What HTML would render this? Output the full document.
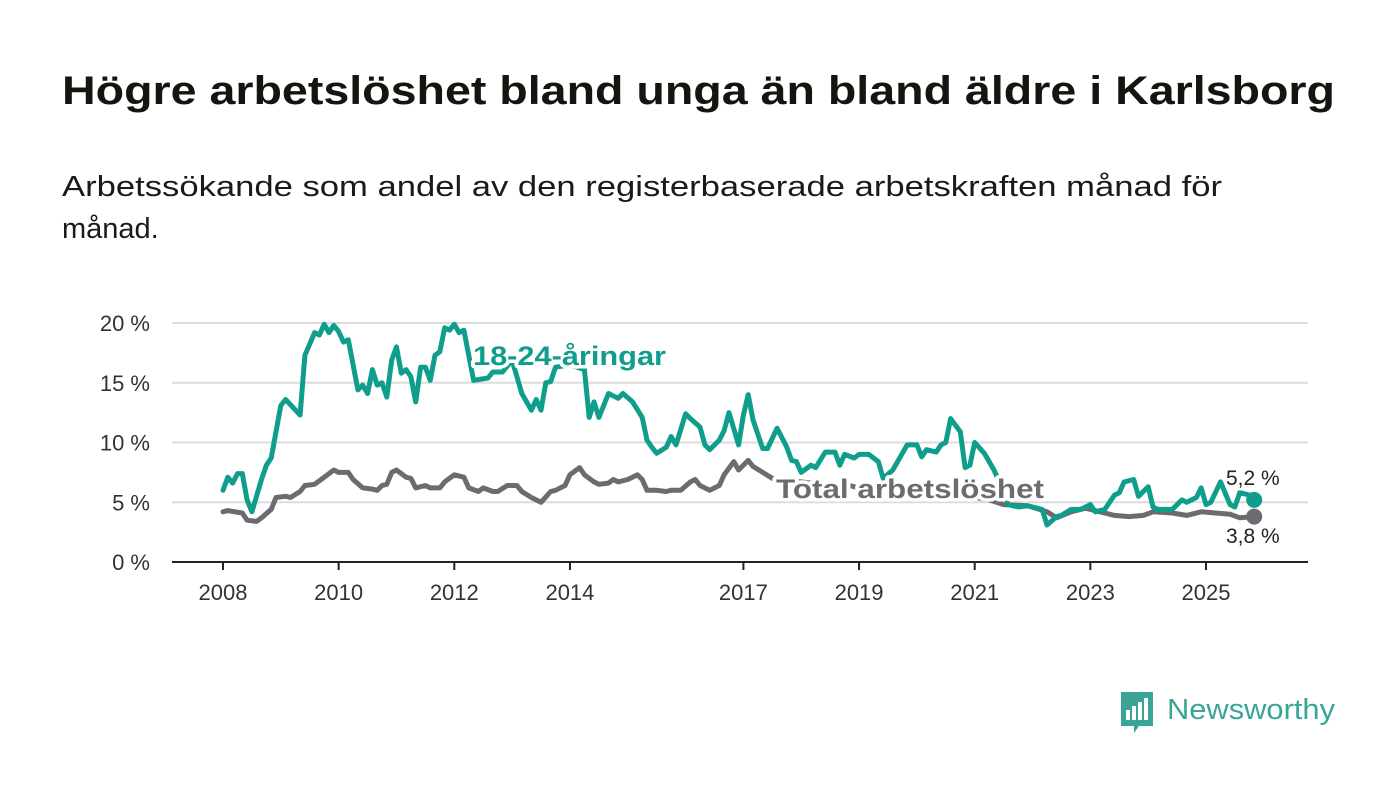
<!DOCTYPE html>
<html><head><meta charset="utf-8"><style>
html,body{margin:0;padding:0;background:#fff;}
svg{display:block;font-family:"Liberation Sans",sans-serif;}
</style></head><body>
<svg id="chart" width="1400" height="794" viewBox="0 0 1400 794" xmlns="http://www.w3.org/2000/svg">
<text x="62" y="104" font-size="40" font-weight="bold" fill="#151510" textLength="1273" lengthAdjust="spacingAndGlyphs">Högre arbetslöshet bland unga än bland äldre i Karlsborg</text>
<text x="62" y="196" font-size="29" fill="#1a1a1a" textLength="1160" lengthAdjust="spacingAndGlyphs">Arbetssökande som andel av den registerbaserade arbetskraften månad för</text>
<text x="62" y="238" font-size="29" fill="#1a1a1a">månad.</text>
<g id="grid"></g><g id="axes"></g><g id="series"></g><g id="labels"></g>
<g>
<path d="M1121 692 h32 v34 h-14 l-5 7 v-7 h-13 z" fill="#3aa597"/>
<rect x="1126" y="710" width="4" height="10" fill="#fff"/><rect x="1132" y="706" width="4" height="14" fill="#fff"/><rect x="1138" y="702" width="4" height="18" fill="#fff"/><rect x="1144" y="698" width="4" height="22" fill="#fff"/>
<text x="1167" y="719" font-size="29" fill="#3aa597" textLength="168" lengthAdjust="spacingAndGlyphs">Newsworthy</text>
</g>
</svg>
<script>
const youthMonths=[0,1,2,3,4,5,6,8,9,10,12,13,16,17,19,20,21,22,23,24,25,26,27,28,29,30,31,32,33,34,35,36,37,38,39,40,41,42,43,44,45,46,47,48,49,50,52,55,56,58,60,62,64,65,66,67,68,69,72,75,76,77,78,80,82,83,85,87,88,89,90,92,93,94,96,97,99,100,101,103,104,105,107,108,109,110,112,113,115,117,118,119,120,122,123,125,127,128,129,131,132,134,136,137,139,142,144,145,146,148,149,150,151,153,154,155,156,158,160,162,163,165,167,170,171,173,174,176,178,180,181,183,185,186,187,189,190,192,193,194,197,199,200,202,203,204,205,207,209,210,211,213,214];
const youthValues=[6.0,7.1,6.6,7.4,7.4,5.2,4.2,6.9,8.1,8.7,13.1,13.6,12.3,17.3,19.2,19.0,19.9,19.2,19.8,19.3,18.4,18.6,16.5,14.4,14.8,14.1,16.1,14.8,15.0,13.8,16.9,18.0,15.8,16.1,15.5,13.4,16.3,16.3,15.2,17.3,17.6,19.6,19.4,19.9,19.2,19.4,15.2,15.4,15.9,15.9,16.9,14.1,12.7,13.6,12.7,15.0,15.1,16.3,16.5,16.1,12.1,13.4,12.1,14.1,13.7,14.1,13.4,12.1,10.2,9.6,9.1,9.6,10.5,9.8,12.4,12.0,11.3,9.8,9.4,10.2,11.0,12.5,9.8,12.3,14.0,11.9,9.5,9.5,11.2,9.6,8.5,8.4,7.5,8.1,7.9,9.2,9.2,8.1,9.0,8.7,9.0,9.0,8.4,7.0,7.7,9.8,9.8,8.8,9.4,9.2,9.8,10.0,12.0,10.9,7.9,8.1,10.0,9.1,7.7,5.9,4.8,4.6,4.7,4.4,3.1,3.8,3.9,4.4,4.4,4.8,4.2,4.4,5.6,5.8,6.7,6.9,5.5,6.3,4.6,4.4,4.4,5.2,5.0,5.4,6.2,4.8,5.0,6.7,4.8,4.6,5.8,5.6,5.2];
const totalMonths=[0,1,4,5,7,8,10,11,13,14,16,17,19,21,23,24,26,27,29,31,32,33,34,35,36,38,39,40,42,43,45,46,48,50,51,53,54,56,57,59,61,62,64,65,66,68,69,71,72,74,75,77,78,80,81,82,84,86,87,88,90,92,93,95,97,98,99,101,103,104,106,107,109,110,112,114,118,122,126,130,134,138,143,147,151,155,159,162,167,171,173,176,179,182,185,188,191,193,197,200,203,206,209,211,214];
const totalValues=[4.2,4.3,4.1,3.5,3.4,3.7,4.4,5.4,5.5,5.4,5.9,6.4,6.5,7.1,7.7,7.5,7.5,6.9,6.2,6.1,6.0,6.4,6.5,7.5,7.7,7.1,7.0,6.2,6.4,6.2,6.2,6.7,7.3,7.1,6.2,5.9,6.2,5.9,5.9,6.4,6.4,5.9,5.4,5.2,5.0,5.9,6.0,6.4,7.3,7.9,7.3,6.7,6.5,6.6,6.9,6.7,6.9,7.3,6.9,6.0,6.0,5.9,6.0,6.0,6.7,6.9,6.4,6.0,6.4,7.3,8.4,7.7,8.5,8.0,7.5,7.0,6.8,6.6,6.3,6.4,6.0,6.2,6.0,5.8,5.5,5.5,5.2,4.8,4.7,4.2,3.7,4.2,4.5,4.2,3.9,3.8,3.9,4.2,4.1,3.9,4.2,4.1,4.0,3.7,3.8];
const yTicks=[0,5,10,15,20];
const yTickLabels=["0 %","5 %","10 %","15 %","20 %"];
const xTickYears=[2008,2010,2012,2014,2017,2019,2021,2023,2025];
const NS="http://www.w3.org/2000/svg";
const x=m=>223+m*(983/204);
const xy=yr=>x((yr-2008)*12);
const y=v=>562-v*(239/20);
function mk(tag,attrs,parent,txt){const e=document.createElementNS(NS,tag);for(const k in attrs)e.setAttribute(k,attrs[k]);if(txt!==undefined)e.textContent=txt;parent.appendChild(e);return e;}
const grid=document.getElementById('grid'),axes=document.getElementById('axes'),series=document.getElementById('series'),labels=document.getElementById('labels');
yTicks.forEach((t,i)=>{
  if(t>0){const g=mk('line',{x1:172,x2:1308,y1:y(t),y2:y(t),stroke:'#dcdcdc','stroke-width':2},grid);
  
  }
  const l=mk('text',{x:150,y:y(t)+8,'font-size':22,fill:'#333','text-anchor':'end'},axes,yTickLabels[i]);
  
  
});
const base=mk('line',{x1:172,x2:1308,y1:562,y2:562,stroke:'#222','stroke-width':2},axes);


xTickYears.forEach(yr=>{
  mk('line',{x1:xy(yr),x2:xy(yr),y1:562,y2:570,stroke:'#222','stroke-width':2},axes);
  const l=mk('text',{x:xy(yr),y:600,'font-size':22,fill:'#333','text-anchor':'middle'},axes,String(yr));
  
  
});
function line(ms,vs,color,name){
  const d=ms.map((m,i)=>(i?'L':'M')+x(m).toFixed(1)+' '+y(vs[i]).toFixed(1)).join(' ');
  const p=mk('path',{d:d,fill:'none',stroke:color,'stroke-width':5,'stroke-linejoin':'round','stroke-linecap':'round'},series);
  
  
  const c=mk('circle',{cx:x(ms[ms.length-1]),cy:y(vs[vs.length-1]),r:8,fill:color},series);
  
  
}
line(totalMonths,totalValues,'#6d6b70','total-line');
line(youthMonths,youthValues,'#0f9e8c','youth-line');
function lab(txt,xx,yy,color,name,len){
  const t=mk('text',{x:xx,y:yy,'font-size':27,'font-weight':'bold',fill:color,stroke:'#fff','stroke-width':7,'paint-order':'stroke','stroke-linejoin':'round',textLength:len,lengthAdjust:'spacingAndGlyphs'},labels,txt);
  
  
}
lab('18-24-åringar',473,365,'#0f9e8c','youth-series-label',193);
lab('Total arbetslöshet',776,498,'#6d6b70','total-series-label',268);
const v1=mk('text',{x:1226,y:485,'font-size':21,fill:'#222',stroke:'#fff','stroke-width':5,'paint-order':'stroke'},labels,youthValues[youthValues.length-1].toFixed(1).replace('.',',')+' %');


const v2=mk('text',{x:1226,y:543,'font-size':21,fill:'#222',stroke:'#fff','stroke-width':5,'paint-order':'stroke'},labels,totalValues[totalValues.length-1].toFixed(1).replace('.',',')+' %');


</script>
</body></html>
